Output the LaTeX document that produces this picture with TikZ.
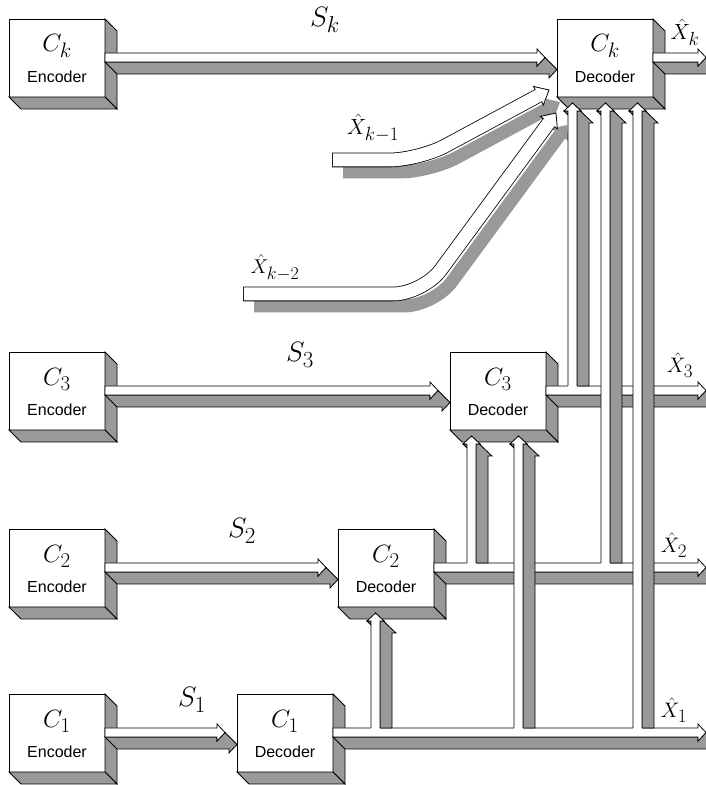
\RequirePackage{fix-cm}
\documentclass[tikz,border=0pt]{standalone}
\usepackage{fontspec}
\setsansfont{Liberation Sans}
\usetikzlibrary{positioning, calc}
\definecolor{pipeGray}{RGB}{153,153,153}
\DeclareMathSizes{25}{25}{21}{17}
\DeclareMathSizes{28}{28}{23}{19}
\DeclareMathSizes{21}{21}{19}{15}
\DeclareMathSizes{22}{22}{19}{15}
\DeclareMathSizes{20}{20}{18}{14}
\tikzset{
  sideface/.style={draw, fill=pipeGray, line width=0.8pt},
  frontface/.style={draw, fill=white, line width=0.8pt},
  pipeline/.style={draw, line width=0.8pt}
}
% horizontal 3D channel: #1 top-left of front face, #2 tip (x only)
\newcommand{\hpipe}[2]{%
  \draw[sideface] let \p1=(#1), \p2=(#2) in
    (\x1,\y1-9pt) -- (\x2-8pt,\y1-9pt) -- (\x2-8pt,\y1-13pt) -- (\x2,\y1-4.5pt)
    -- (\x2+12pt,\y1-16.5pt) -- (\x2+4pt,\y1-25pt) -- (\x2+4pt,\y1-21pt) -- (\x1+12pt,\y1-21pt) -- cycle;
  \draw[frontface] let \p1=(#1), \p2=(#2) in
    (\x1,\y1) -- (\x2-8pt,\y1) -- (\x2-8pt,\y1+4pt) -- (\x2,\y1-4.5pt) -- (\x2-8pt,\y1-13pt)
    -- (\x2-8pt,\y1-9pt) -- (\x1,\y1-9pt) -- cycle;
}
% vertical 3D channel: #1 left edge (x), #2 start (y), #3 tip (y)
\newcommand{\vpipe}[3]{%
  \draw[sideface] let \p1=(#1), \p2=(#2), \p3=(#3) in
    (\x1+4.5pt,\y3) -- (\x1+13pt,\y3-8pt) -- (\x1+9pt,\y3-8pt) -- (\x1+9pt,\y2) -- (\x1+21pt,\y2)
    -- (\x1+21pt,\y3-20pt) -- (\x1+25pt,\y3-20pt) -- (\x1+16.5pt,\y3-12pt) -- cycle;
  \draw[sideface] let \p1=(#1), \p3=(#3) in
    (\x1-4pt,\y3-8pt) -- (\x1,\y3-8pt) -- (\x1,\y3-12pt) -- cycle;
  \fill[white] let \p1=(#1), \p2=(#2), \p3=(#3) in
    (\x1,\y2-1pt) -- (\x1,\y3-8pt) -- (\x1-4pt,\y3-8pt) -- (\x1+4.5pt,\y3) -- (\x1+13pt,\y3-8pt)
    -- (\x1+9pt,\y3-8pt) -- (\x1+9pt,\y2-1pt) -- cycle;
  \draw[pipeline] let \p1=(#1), \p2=(#2), \p3=(#3) in
    (\x1,\y2) -- (\x1,\y3-8pt) -- (\x1-4pt,\y3-8pt) -- (\x1+4.5pt,\y3) -- (\x1+13pt,\y3-8pt)
    -- (\x1+9pt,\y3-8pt) -- (\x1+9pt,\y2);
}

\begin{document}
\begin{tikzpicture}[
    x=1pt, y=1pt,
    front/.style={rectangle, draw, fill=white, line width=0.8pt, minimum width=96pt, minimum height=78pt, inner sep=0pt, outer sep=0pt},
    tag/.style={font=\sffamily\fontsize{16}{19}\selectfont, inner sep=0pt},
    clab/.style={font=\fontsize{25}{30}\selectfont, inner sep=0pt},
    slab/.style={font=\fontsize{28}{33}\selectfont, inner sep=0pt},
    xlab/.style={font=\fontsize{21}{25}\selectfont, inner sep=0pt}
]
\useasboundingbox (0,0) rectangle (705,785);

    % encoders
    \node[front] (enck) at (57,727) {};
    \node[front, below=255pt of enck] (enc3) {};
    \node[front, below=99pt of enc3] (enc2) {};
    \node[front, below=87pt of enc2] (enc1) {};

    % decoders
    \node[front, right=452pt of enck] (deck) {};
    \node[front, right=345pt of enc3] (dec3) {};
    \node[front, right=233pt of enc2] (dec2) {};
    \node[front, right=132pt of enc1] (dec1) {};

    % extruded sides
    \foreach \bx in {enck,enc3,enc2,enc1,deck,dec3,dec2,dec1} {
        \draw[sideface] (\bx.north east) -- ++(12,-12) -- ($(\bx.south east)+(12,-12)$) -- (\bx.south east) -- cycle;
        \draw[sideface] (\bx.south west) -- ++(12,-12) -- ($(\bx.south east)+(12,-12)$) -- (\bx.south east) -- cycle;
    }

    \foreach \bx/\sub/\word in {enck/k/Encoder, enc3/3/Encoder, enc2/2/Encoder, enc1/1/Encoder,
                               deck/k/Decoder, dec3/3/Decoder, dec2/2/Decoder, dec1/1/Decoder} {
        \node[clab] (\bx-c) at ($(\bx.north)+(0,-27)$) {$C_{\sub}$};
        \node[tag] (\bx-t) at ($(\bx.south)+(0,20)$) {\word};
    }

    \foreach \i in {k,3,2,1}
        \coordinate (out\i) at ($(dec\i.north east)+(0,-34)$);
    \coordinate (rim) at (706,0);

    % channels S_i
    \foreach \i in {k,3,2,1}
        \hpipe{$(enc\i.north east)+(0,-34)$}{$(dec\i.west)+(-12,0)$};

    % decoder outputs
    \foreach \i in {k,3,2,1}
        \hpipe{out\i}{rim};

    % earlier estimates into the C_k decoder
    \foreach \st/\cr/\tp in {{332,625}/{419,625}/{549,695}, {243,491}/{423,491}/{556,672}} {
        \coordinate (hb) at ($(\tp)!12pt!(\cr)$);
        \coordinate (hl) at ($(hb)!10.5pt!90:(\tp)$);
        \coordinate (hr) at ($(hb)!10.5pt!-90:(\tp)$);
        \coordinate (sl) at ($(hb)!6.5pt!90:(\tp)$);
        \coordinate (sr) at ($(hb)!6.5pt!-90:(\tp)$);
        \begin{scope}[transform canvas={shift={(11pt,-12pt)}}]
            \draw[pipeGray, line width=13pt, rounded corners=30pt] (\st) -- (\cr) -- (hb);
            \fill[pipeGray] (hl) -- (\tp) -- (hr) -- cycle;
        \end{scope}
        \draw[line width=14.6pt, rounded corners=30pt] (\st) -- (\cr) -- (hb);
        \draw[white, line width=13pt, rounded corners=30pt, shorten <=0.8pt] (\st) -- (\cr) -- (hb);
        \fill[white] (hl) -- (\tp) -- (hr) -- cycle;
        \draw[pipeline] (sl) -- (hl) -- (\tp) -- (hr) -- (sr);
    }

    % outputs fed up to later decoders
    \foreach \tgt/\dx/\src in {k/11/3, k/44/2, k/76/1, 3/17/2, 3/64/1, 2/33/1}
        \vpipe{$(dec\tgt.south west)+(\dx,0)$}{out\src}{$(dec\tgt.south)+(0,-6)$};

    % labels
    \node[slab] (sk-lab) at (325,765) {$S_k$};
    \node[slab] (s3-lab) at (300,430) {$S_3$};
    \node[slab] (s2-lab) at (242,254) {$S_2$};
    \node[slab] (s1-lab) at (192,85) {$S_1$};
    \node[xlab, font=\fontsize{22}{26}\selectfont] (xk-lab) at (685,753) {$\hat{X}_k$};
    \node[xlab] (x3-lab) at (680,420) {$\hat{X}_3$};
    \node[xlab] (x2-lab) at (674,240) {$\hat{X}_2$};
    \node[xlab] (x1-lab) at (674,75) {$\hat{X}_1$};
    \node[xlab, font=\fontsize{22}{26}\selectfont] (xk1-lab) at (373,657) {$\hat{X}_{k-1}$};
    \node[xlab, font=\fontsize{20}{24}\selectfont] (xk2-lab) at (275,517) {$\hat{X}_{k-2}$};

\end{tikzpicture}
\end{document}
